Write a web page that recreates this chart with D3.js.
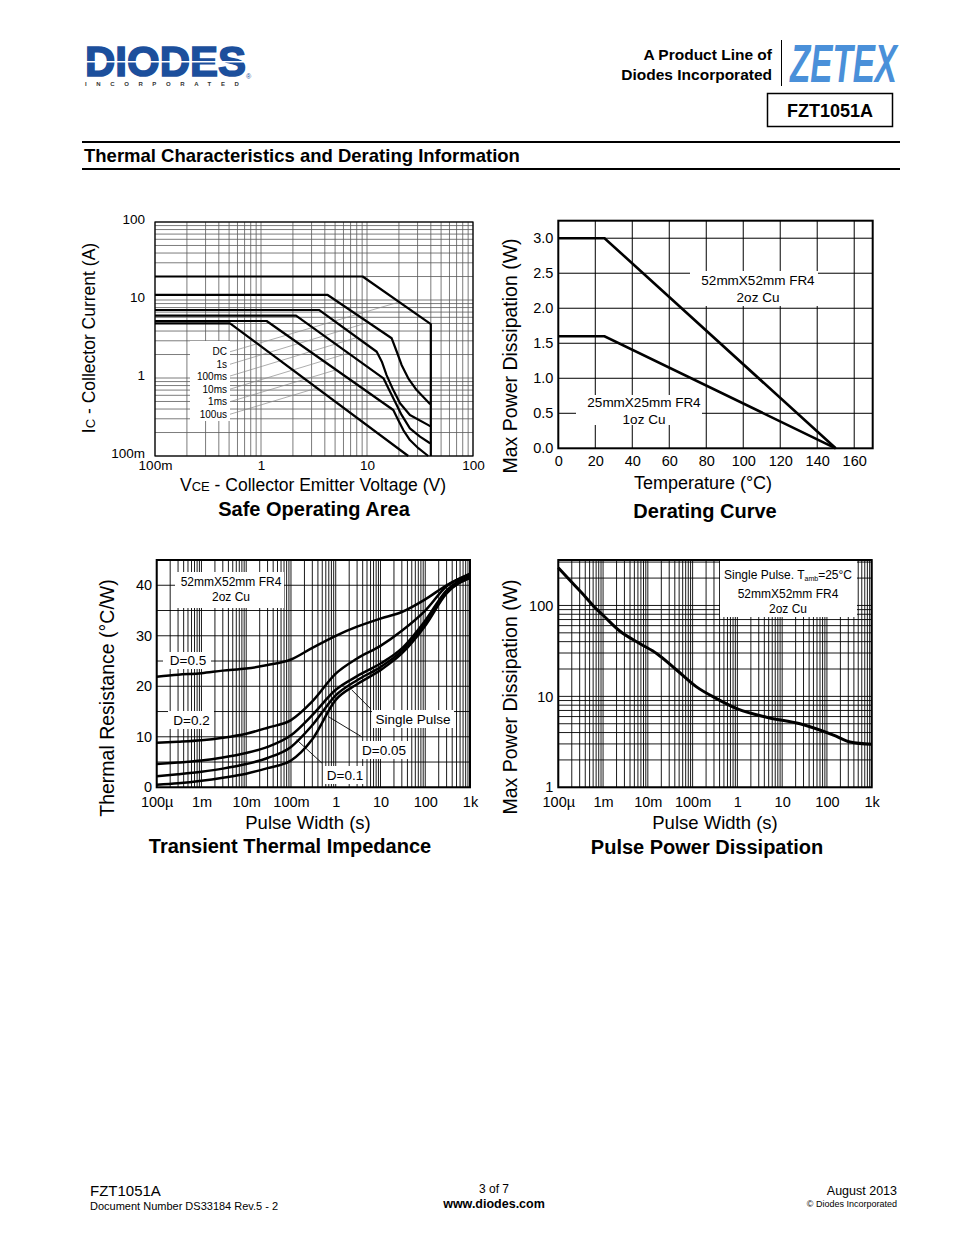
<!DOCTYPE html>
<html><head><meta charset="utf-8">
<script src="https://cdn.jsdelivr.net/npm/d3@7"></script>
<style>
body{margin:0;background:#fff}
svg{display:block}
text{font-family:"Liberation Sans",Arial,sans-serif;fill:#000}
</style>
</head><body>
<svg id="page" width="954" height="1235"></svg>
<script>
// ---------------- DATA ----------------
// Safe Operating Area (VCE [V], IC [A])
const soaXTicks = [0.1, 1, 10, 100];
const soaXTickLabels = ["100m", "1", "10", "100"];
const soaYTicks = [0.1, 1, 10, 100];
const soaYTickLabels = ["100m", "1", "10", "100"];
const soaDC    = [[0.1,20],[9.1,20],[40,4.9],[40,0.1]];
const soa1s    = [[0.1,11.6],[4.26,11.6],[17.1,3.23],[19.1,2.17],[21.2,1.47],[24.5,0.99],[29.4,0.70],[38.7,0.474],[40,0.46]];
const soa100ms = [[0.1,7.44],[3.55,7.44],[12.35,2.17],[13.8,1.62],[15.3,1.09],[17.7,0.70],[20.5,0.474],[25.4,0.336],[38.7,0.245],[40,0.24]];
const soa10ms  = [[0.1,6.29],[2.14,6.29],[14.3,0.99],[15.9,0.74],[18.4,0.497],[21.2,0.336],[25.4,0.226],[31.6,0.177],[38.7,0.148],[40,0.145]];
const soa1ms   = [[0.1,5.38],[1.13,5.38],[17.7,0.389],[19.7,0.29],[22.0,0.215],[25.4,0.16],[30.5,0.126],[37.8,0.1]];
const soa100us = [[0.1,5.02],[0.51,5.02],[24.5,0.1]];
const soaLabels = ["DC", "1s", "100ms", "10ms", "1ms", "100us"];
const soaLabelAnchors = [[0.51,2.17],[0.51,1.50],[0.51,1.06],[0.51,0.72],[0.51,0.497],[0.51,0.343]];
const soaLeaderEnds = [[19.4,9.29],[10.3,5.16],[8.08,3.31],[6.65,2.08],[5.09,1.27],[3.38,0.745]];

// Derating curve (Temperature [°C], Power [W])
const deratingTemp = [0, 25, 150];
const derating52mm = [3.0, 3.0, 0];
const derating25mm = [1.6, 1.6, 0];
const deratingXTicks = [0, 20, 40, 60, 80, 100, 120, 140, 160];
const deratingYTicks = [0, 0.5, 1.0, 1.5, 2.0, 2.5, 3.0];

// Transient thermal impedance (pulse width [s], Zth [°C/W])
const zthWidths = [1e-4, 3e-4, 1e-3, 3e-3, 0.01, 0.03, 0.1, 0.3, 1, 3, 10, 30, 100, 300, 1000];
const zthD05    = [21.9, 22.3, 22.6, 23.1, 23.5, 24.2, 25.3, 27.6, 30.0, 31.8, 33.4, 34.7, 37.2, 40.0, 42.3];
const zthD02    = [8.8, 9.0, 9.3, 9.8, 10.6, 11.8, 13.3, 17.0, 22.5, 25.5, 28.0, 31.0, 35.0, 39.8, 42.1];
const zthD01    = [4.6, 4.9, 5.3, 5.9, 6.8, 8.0, 10.3, 14.3, 19.3, 22.0, 24.5, 27.5, 33.0, 39.0, 41.8];
const zthD005   = [2.2, 2.6, 3.1, 3.7, 4.6, 5.8, 8.0, 12.3, 18.2, 21.2, 23.8, 27.0, 32.5, 38.7, 41.6];
const zthSingle = [0.5, 0.8, 1.3, 1.9, 2.7, 3.8, 5.3, 9.5, 17.3, 20.4, 23.2, 26.5, 32.0, 38.4, 41.4];
const zthYTicks = [0, 10, 20, 30, 40];
const zthGridY = [0, 5, 10, 15, 20, 25, 30, 35, 40, 45];

// Pulse power dissipation (pulse width [s], power [W])
const ppWidths = [1e-4, 2e-4, 4e-4, 7e-4, 1e-3, 2.4e-3, 6.7e-3, 0.016, 0.044, 0.12, 0.35, 1, 4.5, 25, 140, 330, 1000];
const ppPower  = [260, 180, 125, 92, 78, 52, 38, 29.5, 19.5, 12.8, 9.4, 7.3, 5.9, 5.0, 3.75, 3.15, 2.97];
const ppYTicks = [1, 10, 100];
const ppYTickLabels = ["1", "10", "100"];

// Pulse width axis shared by the two lower charts
const pwTicks = [1e-4, 1e-3, 0.01, 0.1, 1, 10, 100, 1000];
const pwTickLabels = ["100µ", "1m", "10m", "100m", "1", "10", "100", "1k"];

// ---------------- HELPERS ----------------
const svg = d3.select("#page");
const FONT = '"Liberation Sans", Arial, sans-serif';

function logGrid(lo, hi) {
  const v = [];
  for (let e = Math.floor(Math.log10(lo) + 1e-9); e <= Math.ceil(Math.log10(hi) - 1e-9); e++)
    for (let k = 1; k <= 9; k++) {
      const val = k * Math.pow(10, e);
      if (val >= lo * 0.999 && val <= hi * 1.001) v.push(val);
    }
  return v;
}
function text(g, x, y, s, o = {}) {
  const t = g.append("text").attr("x", x).attr("y", y).text(s)
    .attr("font-size", o.size || 14)
    .attr("text-anchor", o.anchor || "start");
  if (o.weight) t.attr("font-weight", o.weight);
  if (o.family) t.attr("font-family", o.family);
  if (o.fill) t.style("fill", o.fill);
  return t;
}
function styleAxis(g, size) {
  g.select(".domain").remove();
  g.selectAll("text").attr("font-size", size).attr("font-family", FONT).style("fill", "#000");
}
function whiteBox(g, x, y, w, h) {
  g.append("rect").attr("x", x).attr("y", y).attr("width", w).attr("height", h).attr("fill", "#fff");
}

// ---------------- HEADER ----------------
const hdr = svg.append("g");
const diodesBlue = "#1c4f9c";
const logo = hdr.append("text").attr("x", 85).attr("y", 76).attr("font-weight", "bold");
logo.append("tspan").attr("font-size", 42).style("fill", diodesBlue)
  .style("stroke", diodesBlue).style("stroke-width", 1.6).text("DIODES");
logo.append("tspan").attr("font-size", 7).attr("dy", 3).attr("font-weight", "normal")
  .style("fill", diodesBlue).text("®");
logo.append("tspan").attr("x", 85).attr("y", 86).attr("font-size", 6).style("fill", "#333")
  .attr("letter-spacing", 9.6).text("INCORPORATED");
hdr.append("rect").attr("x", 84).attr("y", 61).attr("width", 162).attr("height", 1.5).attr("fill", "#fff");

text(hdr, 772, 60, "A Product Line of", {size: 15.5, weight: "bold", anchor: "end"});
text(hdr, 772, 80, "Diodes Incorporated", {size: 15.5, weight: "bold", anchor: "end"});
hdr.append("line").attr("x1", 781.5).attr("x2", 781.5).attr("y1", 40).attr("y2", 86)
  .attr("stroke", "#000").attr("stroke-width", 1);
hdr.append("text").attr("transform", "translate(790,82) scale(0.81,1.3)")
  .attr("font-size", 41).attr("font-weight", "bold").attr("font-style", "italic")
  .style("fill", "#4a90d9").text("ZETEX");

hdr.append("rect").attr("x", 767.5).attr("y", 93.5).attr("width", 125).attr("height", 33)
  .attr("fill", "none").attr("stroke", "#000").attr("stroke-width", 1.5);
text(hdr, 830, 117, "FZT1051A", {size: 18, weight: "bold", anchor: "middle"});

hdr.append("line").attr("x1", 82).attr("x2", 900).attr("y1", 142).attr("y2", 142).attr("stroke", "#000").attr("stroke-width", 2);
text(hdr, 84, 162, "Thermal Characteristics and Derating Information", {size: 18.5, weight: "bold"});
hdr.append("line").attr("x1", 82).attr("x2", 900).attr("y1", 169).attr("y2", 169).attr("stroke", "#000").attr("stroke-width", 2);

// ---------------- SAFE OPERATING AREA ----------------
(function () {
  const g = svg.append("g");
  const x = d3.scaleLog().domain([0.1, 100]).range([155, 473]);
  const y = d3.scaleLog().domain([0.1, 100]).range([456, 222]);
  const gridStroke = "#5a5a5a";
  g.selectAll(".vg").data(logGrid(0.1, 100)).join("line")
    .attr("x1", d => x(d)).attr("x2", d => x(d)).attr("y1", y(0.1)).attr("y2", y(100))
    .attr("stroke", gridStroke).attr("stroke-width", 0.8);
  g.selectAll(".hg").data(logGrid(0.1, 100)).join("line")
    .attr("y1", d => y(d)).attr("y2", d => y(d)).attr("x1", x(0.1)).attr("x2", x(100))
    .attr("stroke", gridStroke).attr("stroke-width", 0.8);
  whiteBox(g, 190, 341, 40, 80);
  soaLabels.forEach((lab, i) => {
    const a = soaLabelAnchors[i], b = soaLeaderEnds[i];
    g.append("line").attr("x1", x(a[0])).attr("y1", y(a[1])).attr("x2", x(b[0])).attr("y2", y(b[1]))
      .attr("stroke", "#8a8a8a").attr("stroke-width", 0.7);
    text(g, x(a[0]) - 3, y(a[1]), lab, {size: 10, anchor: "end"}).attr("dominant-baseline", "central");
  });
  g.append("rect").attr("x", 155).attr("y", 222).attr("width", 318).attr("height", 234)
    .attr("fill", "none").attr("stroke", "#000").attr("stroke-width", 1.2);
  const line = d3.line().x(d => x(d[0])).y(d => y(d[1]));
  [soaDC, soa1s, soa100ms, soa10ms, soa1ms, soa100us].forEach(c => {
    g.append("path").attr("d", line(c)).attr("fill", "none").attr("stroke", "#000")
      .attr("stroke-width", 2.2).attr("stroke-linejoin", "round");
  });
  const ax = g.append("g").attr("transform", "translate(0,456)")
    .call(d3.axisBottom(x).tickValues(soaXTicks).tickFormat((d, i) => soaXTickLabels[i]).tickSize(0).tickPadding(4));
  styleAxis(ax, 13.5);
  const ay = g.append("g").attr("transform", "translate(155,0)")
    .call(d3.axisLeft(y).tickValues(soaYTicks).tickFormat((d, i) => soaYTickLabels[i]).tickSize(0).tickPadding(10));
  styleAxis(ay, 13.5);
  ay.selectAll("text").attr("dy", "0.1em");
  const xt = text(g, 313, 491, "V", {size: 17.5, anchor: "middle"});
  xt.append("tspan").attr("font-size", 13).text("CE");
  xt.append("tspan").text(" - Collector Emitter Voltage (V)");
  const yt = g.append("text").attr("transform", "translate(95,338) rotate(-90)")
    .attr("text-anchor", "middle").attr("font-size", 17.5).text("I");
  yt.append("tspan").attr("font-size", 13).text("C");
  yt.append("tspan").text(" - Collector Current (A)");
  text(g, 314, 516, "Safe Operating Area", {size: 20, weight: "bold", anchor: "middle"});
})();

// ---------------- DERATING CURVE ----------------
(function () {
  const g = svg.append("g");
  const x = d3.scaleLinear().domain([0, 170]).range([558.3, 872.7]);
  const y = d3.scaleLinear().domain([0, 3.25]).range([448.3, 220.7]);
  g.selectAll(".vg").data(deratingXTicks.slice(1)).join("line")
    .attr("x1", d => x(d)).attr("x2", d => x(d)).attr("y1", y(0)).attr("y2", y(3.25))
    .attr("stroke", "#000").attr("stroke-width", 1);
  g.selectAll(".hg").data(deratingYTicks.slice(1)).join("line")
    .attr("y1", d => y(d)).attr("y2", d => y(d)).attr("x1", x(0)).attr("x2", x(170))
    .attr("stroke", "#000").attr("stroke-width", 1);
  whiteBox(g, 690, 271, 128, 35);
  whiteBox(g, 576, 395, 126, 30);
  text(g, 758, 285, "52mmX52mm FR4", {size: 13.5, anchor: "middle"});
  text(g, 758, 302, "2oz Cu", {size: 13.5, anchor: "middle"});
  text(g, 644, 407, "25mmX25mm FR4", {size: 13.5, anchor: "middle"});
  text(g, 644, 424, "1oz Cu", {size: 13.5, anchor: "middle"});
  g.append("rect").attr("x", x(0)).attr("y", y(3.25)).attr("width", x(170) - x(0)).attr("height", y(0) - y(3.25))
    .attr("fill", "none").attr("stroke", "#000").attr("stroke-width", 2);
  const line = d3.line().x((d, i) => x(deratingTemp[i])).y(d => y(d));
  [derating52mm, derating25mm].forEach(s => {
    g.append("path").attr("d", line(s)).attr("fill", "none").attr("stroke", "#000").attr("stroke-width", 2.6);
  });
  const ax = g.append("g").attr("transform", `translate(0,${y(0)})`)
    .call(d3.axisBottom(x).tickValues(deratingXTicks).tickFormat(d3.format("d")).tickSize(0).tickPadding(7));
  styleAxis(ax, 14.5);
  const ay = g.append("g").attr("transform", `translate(${x(0)},0)`)
    .call(d3.axisLeft(y).tickValues(deratingYTicks).tickFormat(d3.format(".1f")).tickSize(0).tickPadding(5));
  styleAxis(ay, 14.5);
  text(g, 703, 489, "Temperature (°C)", {size: 18, anchor: "middle"});
  g.append("text").attr("transform", "translate(517,356) rotate(-90)").attr("text-anchor", "middle")
    .attr("font-size", 19.5).text("Max Power Dissipation (W)");
  text(g, 705, 518, "Derating Curve", {size: 20, weight: "bold", anchor: "middle"});
})();

// ---------------- TRANSIENT THERMAL IMPEDANCE ----------------
(function () {
  const g = svg.append("g");
  const x = d3.scaleLog().domain([1e-4, 1e3]).range([156.7, 470]);
  const y = d3.scaleLinear().domain([0, 45]).range([787.3, 560]);
  g.selectAll(".vg").data(logGrid(1e-4, 1e3)).join("line")
    .attr("x1", d => x(d)).attr("x2", d => x(d)).attr("y1", y(0)).attr("y2", y(45))
    .attr("stroke", "#000").attr("stroke-width", 0.9);
  g.selectAll(".hg").data(zthGridY).join("line")
    .attr("y1", d => y(d)).attr("y2", d => y(d)).attr("x1", x(1e-4)).attr("x2", x(1e3))
    .attr("stroke", "#000").attr("stroke-width", 0.9);
  whiteBox(g, 175, 572, 109, 36);
  whiteBox(g, 163, 652, 48, 17);
  whiteBox(g, 168, 711, 46, 18);
  whiteBox(g, 372, 710, 82, 18);
  whiteBox(g, 358, 741, 50, 18);
  whiteBox(g, 324, 766, 41, 18);
  text(g, 231, 586, "52mmX52mm FR4", {size: 12, anchor: "middle"});
  text(g, 231, 601, "2oz Cu", {size: 12, anchor: "middle"});
  text(g, 188, 665, "D=0.5", {size: 13.5, anchor: "middle"});
  text(g, 191.5, 725, "D=0.2", {size: 13.5, anchor: "middle"});
  text(g, 413, 724, "Single Pulse", {size: 13.5, anchor: "middle"});
  text(g, 384, 755, "D=0.05", {size: 13.5, anchor: "middle"});
  text(g, 345, 780, "D=0.1", {size: 13.5, anchor: "middle"});
  const leaders = [[[6.1, 15.5], [2.27, 19.3]], [[3.8, 10.0], [0.68, 14.0]], [[0.49, 4.8], [0.134, 9.4]]];
  leaders.forEach(l => g.append("line").attr("x1", x(l[0][0])).attr("y1", y(l[0][1]))
    .attr("x2", x(l[1][0])).attr("y2", y(l[1][1])).attr("stroke", "#000").attr("stroke-width", 0.9));
  g.append("rect").attr("x", x(1e-4)).attr("y", y(45)).attr("width", x(1e3) - x(1e-4)).attr("height", y(0) - y(45))
    .attr("fill", "none").attr("stroke", "#000").attr("stroke-width", 2);
  const line = d3.line().x((d, i) => x(zthWidths[i])).y(d => y(d)).curve(d3.curveMonotoneX);
  [zthD05, zthD02, zthD01, zthD005, zthSingle].forEach(s => {
    g.append("path").attr("d", line(s)).attr("fill", "none").attr("stroke", "#000").attr("stroke-width", 2.5);
  });
  const ax = g.append("g").attr("transform", `translate(0,${y(0)})`)
    .call(d3.axisBottom(x).tickValues(pwTicks).tickFormat((d, i) => pwTickLabels[i]).tickSize(0).tickPadding(9));
  styleAxis(ax, 14.5);
  const ay = g.append("g").attr("transform", `translate(${x(1e-4)},0)`)
    .call(d3.axisLeft(y).tickValues(zthYTicks).tickFormat(d3.format("d")).tickSize(0).tickPadding(4.5));
  styleAxis(ay, 14.5);
  text(g, 308, 829, "Pulse Width (s)", {size: 18.5, anchor: "middle"});
  g.append("text").attr("transform", "translate(114,698) rotate(-90)").attr("text-anchor", "middle")
    .attr("font-size", 19.5).text("Thermal Resistance (°C/W)");
  text(g, 290, 853, "Transient Thermal Impedance", {size: 20, weight: "bold", anchor: "middle"});
})();

// ---------------- PULSE POWER DISSIPATION ----------------
(function () {
  const g = svg.append("g");
  const x = d3.scaleLog().domain([1e-4, 1e3]).range([558.3, 871.7]);
  const y = d3.scaleLog().domain([1, Math.pow(10, 2.5)]).range([787.3, 560]);
  g.selectAll(".vg").data(logGrid(1e-4, 1e3)).join("line")
    .attr("x1", d => x(d)).attr("x2", d => x(d)).attr("y1", y.range()[0]).attr("y2", y.range()[1])
    .attr("stroke", "#000").attr("stroke-width", 0.9);
  g.selectAll(".hg").data(logGrid(1, 316)).join("line")
    .attr("y1", d => y(d)).attr("y2", d => y(d)).attr("x1", x(1e-4)).attr("x2", x(1e3))
    .attr("stroke", "#000").attr("stroke-width", 0.9);
  whiteBox(g, 720, 561, 137, 56);
  const t1 = text(g, 788, 579, "Single Pulse. T", {size: 12, anchor: "middle"});
  t1.append("tspan").attr("font-size", 7).attr("dy", 2).text("amb");
  t1.append("tspan").attr("dy", -2).text("=25°C");
  text(g, 788, 598, "52mmX52mm FR4", {size: 12, anchor: "middle"});
  text(g, 788, 613, "2oz Cu", {size: 12, anchor: "middle"});
  g.append("rect").attr("x", x(1e-4)).attr("y", 560).attr("width", x(1e3) - x(1e-4)).attr("height", 227.3)
    .attr("fill", "none").attr("stroke", "#000").attr("stroke-width", 2);
  const line = d3.line().x((d, i) => x(ppWidths[i])).y(d => y(d)).curve(d3.curveMonotoneX);
  g.append("path").attr("d", line(ppPower)).attr("fill", "none").attr("stroke", "#000").attr("stroke-width", 3);
  const ax = g.append("g").attr("transform", "translate(0,787.3)")
    .call(d3.axisBottom(x).tickValues(pwTicks).tickFormat((d, i) => pwTickLabels[i]).tickSize(0).tickPadding(9));
  styleAxis(ax, 14.5);
  const ay = g.append("g").attr("transform", `translate(${x(1e-4)},0)`)
    .call(d3.axisLeft(y).tickValues(ppYTicks).tickFormat((d, i) => ppYTickLabels[i]).tickSize(0).tickPadding(5));
  styleAxis(ay, 14.5);
  text(g, 715, 829, "Pulse Width (s)", {size: 18.5, anchor: "middle"});
  g.append("text").attr("transform", "translate(517,697) rotate(-90)").attr("text-anchor", "middle")
    .attr("font-size", 19.5).text("Max Power Dissipation (W)");
  text(g, 707, 854, "Pulse Power Dissipation", {size: 20, weight: "bold", anchor: "middle"});
})();

// ---------------- FOOTER ----------------
const ftr = svg.append("g");
text(ftr, 90, 1196, "FZT1051A", {size: 15});
text(ftr, 90, 1210, "Document Number DS33184 Rev.5 - 2", {size: 11});
text(ftr, 494, 1193, "3 of 7", {size: 12, anchor: "middle"});
text(ftr, 494, 1208, "www.diodes.com", {size: 12.5, weight: "bold", anchor: "middle"});
text(ftr, 897, 1195, "August 2013", {size: 12.5, anchor: "end"});
text(ftr, 897, 1207, "© Diodes Incorporated", {size: 9, anchor: "end"});
</script>
</body></html>
